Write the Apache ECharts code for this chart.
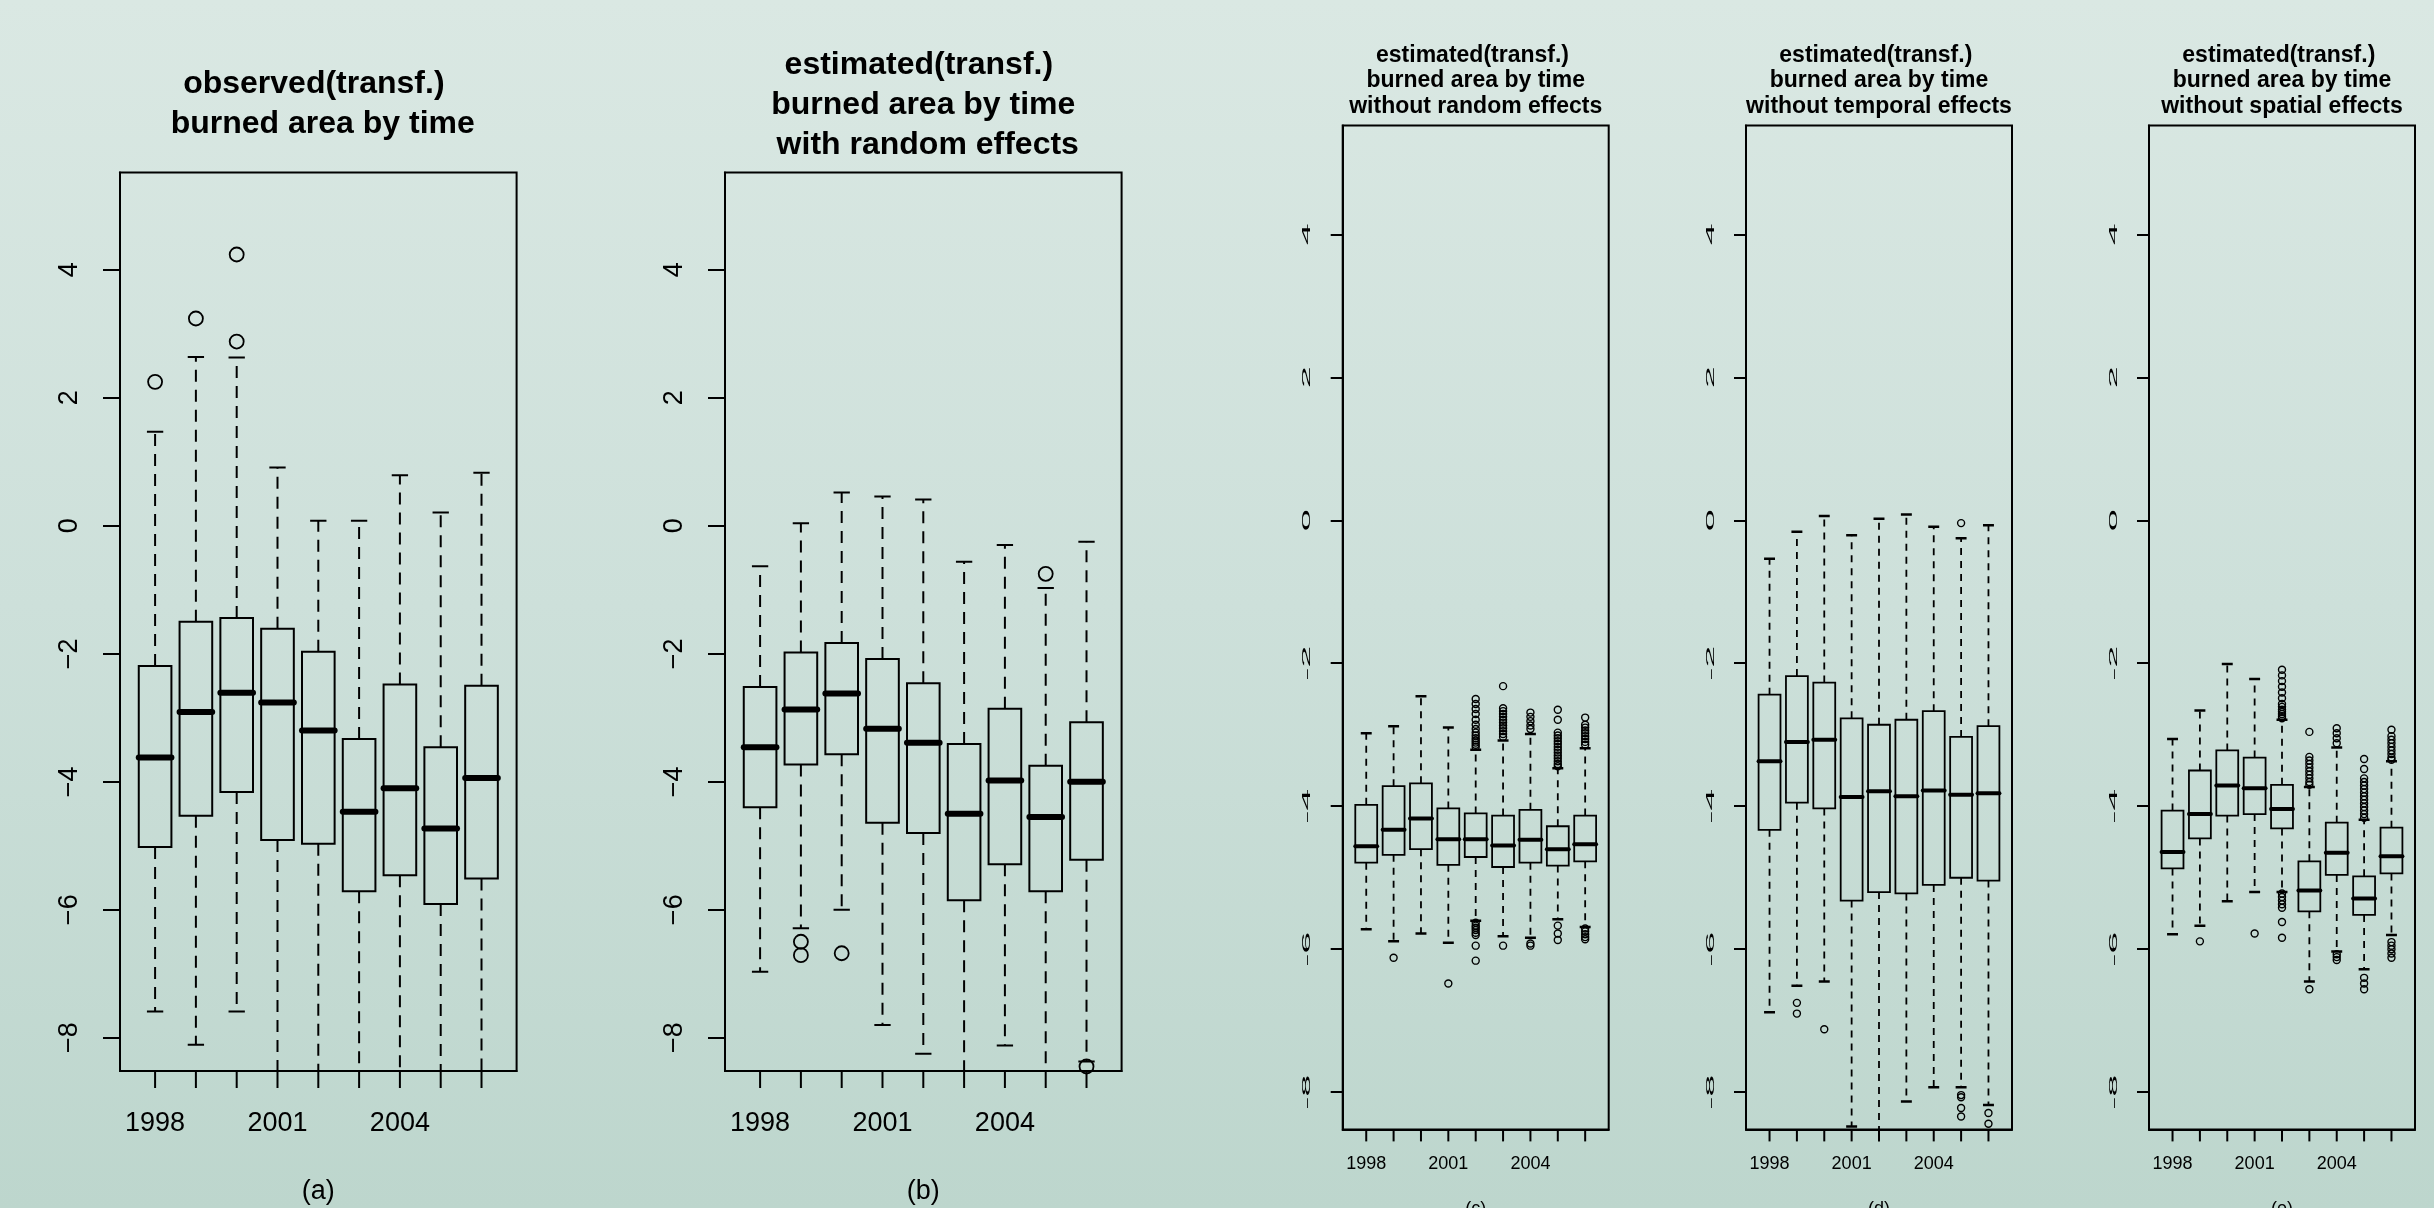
<!DOCTYPE html>
<html>
<head>
<meta charset="utf-8">
<title>burned area by time</title>
<script src="https://cdn.jsdelivr.net/npm/echarts@6/dist/echarts.min.js"></script>
<style>
  html, body { margin: 0; padding: 0; }
  #chart {
    width: 2434px;
    height: 1208px;
    background: linear-gradient(180deg, #dae8e3 0%, #cde0da 50%, #bdd6cd 100%);
  }
</style>
</head>
<body>
<div id="chart"></div>
<script>
const years = ['1998', '1999', '2000', '2001', '2002', '2003', '2004', '2005', '2006']
const xPos = [1, 2, 3, 4, 5, 6, 7, 8, 9]
const xLabelPos = [1, 4, 7]
const yTicks = [-8, -6, -4, -2, 0, 2, 4]

// each row: [lower whisker, Q1, median, Q3, upper whisker], one row per year
const observedBoxes = [
  [-7.59, -5.02, -3.62, -2.19, 1.47],
  [-8.11, -4.53, -2.91, -1.50, 2.64],
  [-7.59, -4.16, -2.61, -1.44, 2.63],
  [-9.40, -4.91, -2.76, -1.61, 0.91],
  [-9.40, -4.97, -3.20, -1.97, 0.08],
  [-9.40, -5.71, -4.47, -3.33, 0.08],
  [-9.40, -5.46, -4.10, -2.48, 0.79],
  [-9.40, -5.91, -4.73, -3.46, 0.21],
  [-9.40, -5.51, -3.94, -2.50, 0.83]
]
const observedOut = [[1, 2.25], [2, 3.24], [3, 2.88], [3, 4.24]]

const randomBoxes = [
  [-6.97, -4.40, -3.46, -2.52, -0.63],
  [-6.29, -3.73, -2.87, -1.98, 0.04],
  [-6.00, -3.57, -2.62, -1.83, 0.52],
  [-7.80, -4.64, -3.17, -2.08, 0.46],
  [-8.25, -4.80, -3.39, -2.46, 0.41],
  [-9.40, -5.85, -4.50, -3.41, -0.56],
  [-8.12, -5.29, -3.98, -2.86, -0.30],
  [-9.40, -5.71, -4.55, -3.75, -0.97],
  [-8.37, -5.22, -4.00, -3.07, -0.25]
]
const randomOut = [[2, -6.50], [2, -6.71], [3, -6.68], [8, -0.75], [9, -8.45]]

const noRandomBoxes = [
  [-5.72, -4.79, -4.56, -3.98, -2.98],
  [-5.89, -4.68, -4.33, -3.72, -2.88],
  [-5.78, -4.60, -4.17, -3.68, -2.46],
  [-5.91, -4.82, -4.46, -4.03, -2.90],
  [-5.60, -4.71, -4.46, -4.10, -3.21],
  [-5.82, -4.85, -4.55, -4.13, -3.08],
  [-5.84, -4.79, -4.47, -4.05, -2.99],
  [-5.58, -4.83, -4.60, -4.28, -3.47],
  [-5.69, -4.77, -4.53, -4.13, -3.19]
]
const noRandomOut = [
  [2, -6.12], [4, -6.48],
  [5, -2.50], [5, -2.57], [5, -2.64], [5, -2.71], [5, -2.79], [5, -2.86], [5, -2.92], [5, -2.97],
  [5, -3.01], [5, -3.05], [5, -3.08], [5, -3.11], [5, -3.14], [5, -3.17],
  [5, -5.63], [5, -5.67], [5, -5.70], [5, -5.73], [5, -5.77], [5, -5.80], [5, -5.95], [5, -6.16],
  [6, -2.32], [6, -2.63], [6, -2.67], [6, -2.71], [6, -2.75], [6, -2.79], [6, -2.83], [6, -2.87],
  [6, -2.91], [6, -2.95], [6, -2.99], [6, -3.03], [6, -5.95],
  [7, -2.69], [7, -2.75], [7, -2.81], [7, -2.87], [7, -2.92], [7, -5.92], [7, -5.95],
  [8, -2.65], [8, -2.79], [8, -2.97], [8, -3.01], [8, -3.05], [8, -3.09], [8, -3.13], [8, -3.17],
  [8, -3.21], [8, -3.25], [8, -3.29], [8, -3.33], [8, -3.37], [8, -3.41], [8, -3.44],
  [8, -5.67], [8, -5.78], [8, -5.87],
  [9, -2.76], [9, -2.86], [9, -2.90], [9, -2.94], [9, -2.98], [9, -3.02], [9, -3.06], [9, -3.10],
  [9, -3.14], [9, -5.71], [9, -5.75], [9, -5.79], [9, -5.83], [9, -5.86]
]

const noTemporalBoxes = [
  [-6.88, -4.33, -3.37, -2.44, -0.54],
  [-6.51, -3.95, -3.10, -2.18, -0.16],
  [-6.45, -4.03, -3.07, -2.27, 0.06],
  [-8.48, -5.32, -3.87, -2.77, -0.21],
  [-9.40, -5.20, -3.79, -2.86, 0.02],
  [-8.13, -5.22, -3.86, -2.79, 0.08],
  [-7.93, -5.10, -3.78, -2.67, -0.09],
  [-7.93, -5.00, -3.84, -3.03, -0.25],
  [-8.18, -5.04, -3.82, -2.88, -0.07]
]
const noTemporalOut = [
  [2, -6.75], [2, -6.90], [3, -7.12],
  [8, -0.04], [8, -8.04], [8, -8.07], [8, -8.22], [8, -8.34],
  [9, -8.29], [9, -8.44]
]

const noSpatialBoxes = [
  [-5.79, -4.87, -4.64, -4.06, -3.06],
  [-5.67, -4.45, -4.11, -3.50, -2.66],
  [-5.33, -4.13, -3.71, -3.22, -2.01],
  [-5.20, -4.11, -3.75, -3.32, -2.22],
  [-5.20, -4.31, -4.04, -3.70, -2.79],
  [-6.45, -5.47, -5.18, -4.77, -3.73],
  [-6.03, -4.96, -4.65, -4.23, -3.18],
  [-6.28, -5.52, -5.29, -4.98, -4.19],
  [-5.80, -4.94, -4.70, -4.30, -3.37]
]
const noSpatialOut = [
  [2, -5.89], [4, -5.78],
  [5, -2.09], [5, -2.17], [5, -2.25], [5, -2.33], [5, -2.41], [5, -2.49], [5, -2.57], [5, -2.61],
  [5, -2.65], [5, -2.68], [5, -2.71], [5, -2.74], [5, -2.77],
  [5, -5.22], [5, -5.27], [5, -5.32], [5, -5.37], [5, -5.42], [5, -5.62], [5, -5.84],
  [6, -2.96], [6, -3.31], [6, -3.36], [6, -3.41], [6, -3.46], [6, -3.51], [6, -3.56], [6, -3.61],
  [6, -3.66], [6, -3.70], [6, -6.56],
  [7, -2.91], [7, -2.98], [7, -3.05], [7, -3.12], [7, -6.07], [7, -6.11], [7, -6.15],
  [8, -3.34], [8, -3.48], [8, -3.61], [8, -3.66], [8, -3.71], [8, -3.76], [8, -3.81], [8, -3.86],
  [8, -3.91], [8, -3.96], [8, -4.01], [8, -4.06], [8, -4.11], [8, -4.16],
  [8, -6.40], [8, -6.48], [8, -6.56],
  [9, -2.93], [9, -3.02], [9, -3.07], [9, -3.12], [9, -3.17], [9, -3.22], [9, -3.27], [9, -3.32],
  [9, -3.35], [9, -5.90], [9, -5.95], [9, -6.00], [9, -6.06], [9, -6.12]
]

// two drawing sizes: the big (a)/(b) panels and the narrow (c)-(e) panels
const bigStyle = { font: 27, tick: 17, yMargin: 37, xMargin: 39, lw: 2, capLw: 2, medLw: 6, dash: [12, 8], sym: 14, symLw: 1.8, titleFont: 32, titleLh: 40 }
const smallStyle = { font: 18, tick: 12, yMargin: 30, xMargin: 26, lw: 1.8, capLw: 2.5, medLw: 4, dash: [7, 6], sym: 7, symLw: 1.4, titleFont: 23, titleLh: 25.3 }

const panels = [
  { boxes: observedBoxes, out: observedOut, st: bigStyle, tag: '(a)', left: 120, top: 172.6, width: 396.6, height: 898.4, titleY: 104,
    title: 'observed(transf.) \n burned area by time' },
  { boxes: randomBoxes, out: randomOut, st: bigStyle, tag: '(b)', left: 725, top: 172.6, width: 396.6, height: 898.4, titleY: 104.7,
    title: 'estimated(transf.) \nburned area by time\n with random effects' },
  { boxes: noRandomBoxes, out: noRandomOut, st: smallStyle, tag: '(c)', left: 1342.7, top: 125.6, width: 266, height: 1003.8, titleY: 81,
    title: 'estimated(transf.) \nburned area by time\nwithout random effects' },
  { boxes: noTemporalBoxes, out: noTemporalOut, st: smallStyle, tag: '(d)', left: 1746, top: 125.6, width: 266, height: 1003.8, titleY: 81,
    title: 'estimated(transf.) \nburned area by time\nwithout temporal effects' },
  { boxes: noSpatialBoxes, out: noSpatialOut, st: smallStyle, tag: '(e)', left: 2149, top: 125.6, width: 266, height: 1003.8, titleY: 81,
    title: 'estimated(transf.) \nburned area by time\nwithout spatial effects' }
]

function boxRenderer(st) {
  return function (params, api) {
    const x = api.value(0)
    const lo = api.coord([x, api.value(1)])
    const q1 = api.coord([x, api.value(2)])
    const md = api.coord([x, api.value(3)])
    const q3 = api.coord([x, api.value(4)])
    const hi = api.coord([x, api.value(5)])
    const w = api.size([0.8, 0])[0]
    const cx = lo[0]
    const dashed = { stroke: '#000', lineWidth: st.lw, lineDash: st.dash, fill: null }
    const cap = { stroke: '#000', lineWidth: st.capLw, fill: null }
    return {
      type: 'group',
      children: [
        { type: 'line', shape: { x1: cx, y1: q3[1], x2: cx, y2: hi[1] }, style: dashed },
        { type: 'line', shape: { x1: cx, y1: q1[1], x2: cx, y2: lo[1] }, style: dashed },
        { type: 'line', shape: { x1: cx - w / 4, y1: hi[1], x2: cx + w / 4, y2: hi[1] }, style: cap },
        { type: 'line', shape: { x1: cx - w / 4, y1: lo[1], x2: cx + w / 4, y2: lo[1] }, style: cap },
        { type: 'rect', shape: { x: cx - w / 2, y: q3[1], width: w, height: q1[1] - q3[1] },
          style: { stroke: '#000', lineWidth: st.lw, fill: null } },
        { type: 'line', shape: { x1: cx - w / 2, y1: md[1], x2: cx + w / 2, y2: md[1] },
          style: { stroke: '#000', lineWidth: st.medLw, lineCap: 'round', fill: null } }
      ]
    }
  }
}

const grids = []
const xAxes = []
const yAxes = []
const series = []

panels.forEach((p, i) => {
  const st = p.st
  grids.push({
    left: p.left, top: p.top, width: p.width, height: p.height,
    show: true, borderColor: '#000', borderWidth: 2, backgroundColor: 'transparent',
    containLabel: false, outerBoundsMode: 'none'
  })
  xAxes.push({
    type: 'value', gridIndex: i, min: 0.14, max: 9.86, position: 'bottom',
    axisLine: { show: true, onZero: false, lineStyle: { color: '#000', width: 2 } },
    splitLine: { show: false },
    axisTick: { show: false },
    axisLabel: {
      customValues: xLabelPos, margin: st.xMargin, fontSize: st.font, color: '#000',
      fontFamily: 'Liberation Sans',
      formatter: v => years[v - 1]
    }
  })
  yAxes.push({
    type: 'value', gridIndex: i, min: -8.52, max: 5.52, position: 'left',
    axisLine: { show: true, onZero: false, lineStyle: { color: '#000', width: 2 } },
    splitLine: { show: false },
    axisTick: { show: true, customValues: yTicks, length: st.tick, lineStyle: { color: '#000', width: 2 } },
    axisLabel: {
      show: st === bigStyle,
      customValues: yTicks, rotate: 90, margin: st.yMargin, fontSize: st.font, color: '#000',
      fontFamily: 'Liberation Sans',
      formatter: v => String(v).replace('-', '\u2212')
    }
  })
  series.push({
    type: 'custom',
    xAxisIndex: i, yAxisIndex: i,
    clip: true, silent: true,
    renderItem: boxRenderer(st),
    encode: { x: 0, y: [1, 2, 3, 4, 5] },
    data: p.boxes.map((b, k) => [xPos[k]].concat(b))
  })
  series.push({
    type: 'scatter',
    xAxisIndex: i, yAxisIndex: i,
    clip: true, silent: true,
    symbol: 'circle', symbolSize: st.sym,
    itemStyle: { color: 'rgba(0,0,0,0)', borderColor: '#000', borderWidth: st.symLw, opacity: 1 },
    data: p.out
  })
})

const chart = echarts.init(document.getElementById('chart'))
chart.setOption({
  animation: false,
  backgroundColor: 'transparent',
  textStyle: { fontFamily: 'Liberation Sans' },
  grid: grids,
  xAxis: xAxes,
  yAxis: yAxes,
  series: series
})

// titles, panel tags, year ticks, and the stretched tick labels of the narrow panels
const graphics = []
panels.forEach((p, i) => {
  const st = p.st
  const cx = p.left + p.width / 2
  graphics.push({
    type: 'text', x: cx, y: p.titleY, silent: true,
    style: {
      text: p.title, fontSize: st.titleFont, fontWeight: 'bold', fontFamily: 'Liberation Sans',
      lineHeight: st.titleLh, align: 'center', verticalAlign: 'middle', fill: '#000'
    }
  })
  graphics.push({
    type: 'text', x: cx, y: st === bigStyle ? 1192 : 1209, silent: true,
    style: { text: p.tag, fontSize: st.font, fontFamily: 'Liberation Sans', align: 'center', verticalAlign: 'middle', fill: '#000' }
  })
  xPos.forEach(v => {
    const pt = chart.convertToPixel({ gridIndex: i }, [v, -8.52])
    graphics.push({
      type: 'line', silent: true,
      shape: { x1: pt[0], y1: pt[1], x2: pt[0], y2: pt[1] + st.tick },
      style: { stroke: '#000', lineWidth: 2 }
    })
  })
  if (st === smallStyle) {
    yTicks.forEach(v => {
      const pt = chart.convertToPixel({ gridIndex: i }, [0.14, v])
      graphics.push({
        type: 'text', x: pt[0] - st.yMargin, y: pt[1], rotation: Math.PI / 2, scaleX: 3.6, silent: true,
        style: { text: String(v), fontSize: 11, fontFamily: 'Liberation Sans', align: 'center', verticalAlign: 'bottom', fill: '#000' }
      })
    })
  }
})
chart.setOption({ graphic: graphics })
</script>
</body>
</html>
